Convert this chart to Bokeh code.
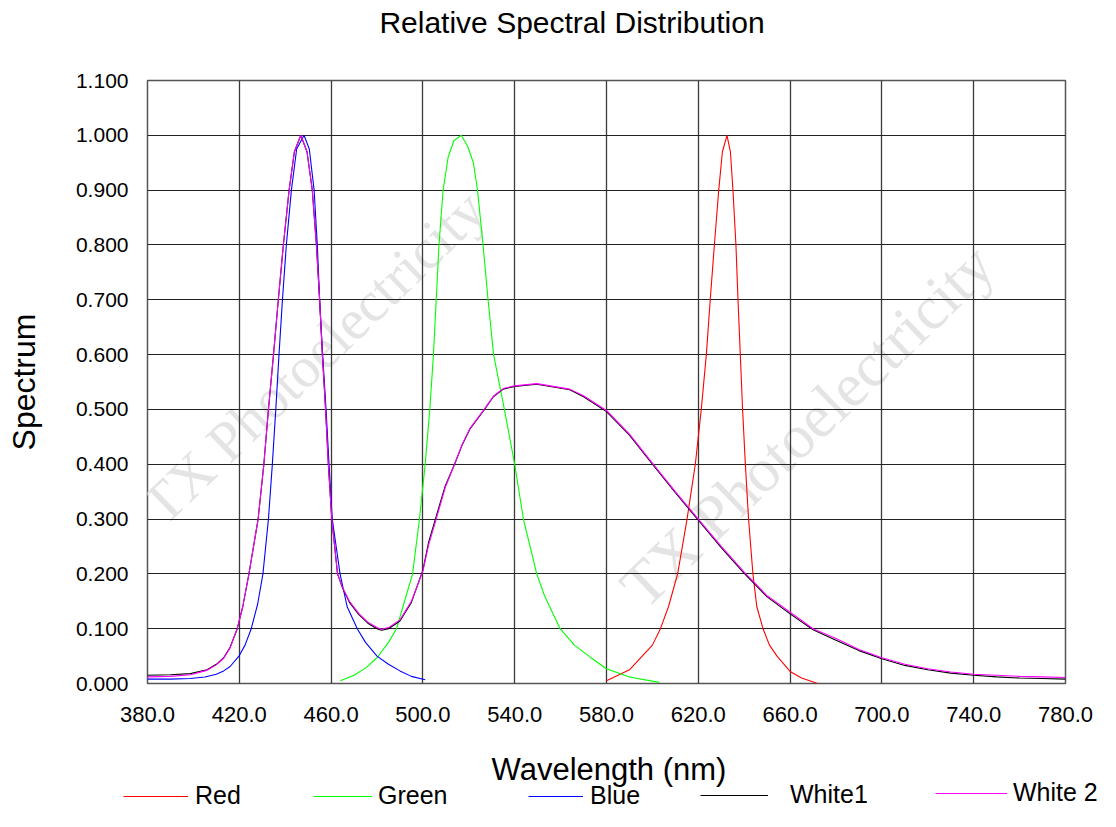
import math
from bokeh.plotting import figure
from bokeh.layouts import column
from bokeh.models import (Legend, LegendItem, Label, FixedTicker,
                          NumeralTickFormatter, Range1d)
from bokeh.embed import file_html
from bokeh.resources import INLINE

# ---------------- data ----------------
red_wl = [580, 590, 600, 603.5, 607, 611, 615.1, 618.7, 621.3, 623.5, 625.2, 627,
          628.9, 630.5, 632.5, 634, 635.1, 636.4, 637.3, 638.3, 639.3, 640.5,
          641.9, 643.8, 645.5, 648.2, 651, 654.3, 660, 665, 672]
red_val = [0.005, 0.025, 0.07, 0.10, 0.14, 0.20, 0.30, 0.40, 0.50, 0.60, 0.70, 0.80,
           0.90, 0.97, 1.00, 0.97, 0.90, 0.80, 0.70, 0.60, 0.50, 0.40,
           0.30, 0.20, 0.14, 0.10, 0.07, 0.05, 0.022, 0.010, 0.0]

green_wl = [464, 470, 475, 480, 485, 488.5, 492, 495.5, 498.5, 501, 503, 504.6,
            505.8, 507, 508.8, 511, 513.5, 516.7, 519.5, 522, 523.8, 526.2, 528.4,
            530.8, 535.5, 540, 543.8, 549.6, 553, 559.8, 566, 572.9, 580, 590, 603]
green_val = [0.005, 0.015, 0.028, 0.047, 0.075, 0.10, 0.15, 0.20, 0.30, 0.40, 0.50, 0.60,
             0.70, 0.80, 0.90, 0.96, 0.99, 1.00, 0.98, 0.95, 0.90, 0.80, 0.70,
             0.60, 0.50, 0.40, 0.30, 0.20, 0.16, 0.10, 0.07, 0.048, 0.027, 0.012, 0.002]

blue_wl = [380, 390, 398.7, 405, 410, 413.2, 416, 420, 422.5, 425.2, 428, 430.3, 432.7,
           434.4, 435.9, 437.3, 438.8, 440.5, 442.7, 445, 448.2, 450.5, 452.6, 454,
           455, 456.3, 457.8, 459.1, 460.5, 463.9, 467, 471.4, 475, 480, 485, 490,
           495, 501]
blue_val = [0.008, 0.008, 0.009, 0.012, 0.017, 0.023, 0.031, 0.051, 0.07, 0.10, 0.145, 0.20, 0.30,
            0.40, 0.50, 0.60, 0.70, 0.80, 0.90, 0.975, 1.00, 0.975, 0.90, 0.80,
            0.70, 0.60, 0.50, 0.40, 0.30, 0.20, 0.14, 0.10, 0.075, 0.05, 0.035, 0.023,
            0.013, 0.007]

white_wl = [380, 390, 398.7, 405.9, 410, 413.2, 416, 419.1, 421.5, 424.2, 428.2, 430.7,
            432.7, 434.9, 437, 439.2, 441.7, 444, 446.8, 449.5, 451.8, 453.6, 455,
            456.2, 457.6, 458.8, 460.3, 462.8, 465, 468, 472, 476, 480, 482, 485,
            490, 495, 500, 502.5, 505.8, 509.7, 513.8, 517, 520.6, 526.7, 530.7, 535,
            540, 549.6, 564, 570, 580, 590, 600, 610, 620, 630, 640, 650, 660, 670,
            680, 690, 700, 710, 720, 730, 740, 750, 760, 770, 780]
white1_val = [0.015, 0.016, 0.018, 0.025, 0.035, 0.047, 0.066, 0.10, 0.14, 0.20, 0.30, 0.40,
              0.50, 0.60, 0.70, 0.80, 0.90, 0.97, 1.00, 0.97, 0.90, 0.80, 0.70,
              0.60, 0.50, 0.40, 0.30, 0.20, 0.174, 0.148, 0.126, 0.110, 0.100, 0.097, 0.100,
              0.114, 0.148, 0.207, 0.258, 0.305, 0.36, 0.40, 0.434, 0.465, 0.499, 0.523, 0.537,
              0.542, 0.546, 0.536, 0.523, 0.496, 0.453, 0.400, 0.348, 0.298, 0.248, 0.201,
              0.158, 0.127, 0.098, 0.079, 0.06, 0.045, 0.033, 0.025, 0.019, 0.015, 0.012,
              0.010, 0.009, 0.008]
white2_val = [0.012, 0.013, 0.016, 0.024, 0.034, 0.046, 0.065, 0.10, 0.14, 0.20, 0.30, 0.40,
              0.50, 0.60, 0.70, 0.80, 0.90, 0.97, 1.00, 0.97, 0.90, 0.80, 0.70,
              0.60, 0.50, 0.40, 0.30, 0.20, 0.175, 0.15, 0.128, 0.112, 0.102, 0.099, 0.102,
              0.116, 0.15, 0.205, 0.253, 0.30, 0.357, 0.40, 0.435, 0.466, 0.50, 0.524, 0.538,
              0.543, 0.547, 0.537, 0.525, 0.498, 0.455, 0.402, 0.350, 0.300, 0.250, 0.203,
              0.160, 0.130, 0.100, 0.082, 0.062, 0.047, 0.035, 0.027, 0.021, 0.017, 0.015,
              0.013, 0.012, 0.011]

series_names = ["Red", "Green", "Blue", "White1", "White 2"]
series_colors = ["#FF0000", "#00FF00", "#0000FF", "#000000", "#FF00FF"]

x_tick_values = [380.0, 420.0, 460.0, 500.0, 540.0, 580.0, 620.0, 660.0, 700.0, 740.0, 780.0]
y_tick_values = [0.0, 0.1, 0.2, 0.3, 0.4, 0.5, 0.6, 0.7, 0.8, 0.9, 1.0, 1.1]

title_text = "Relative Spectral Distribution"
x_label = "Wavelength (nm)"
y_label = "Spectrum"
watermark_text = "TX Photoelectricity"

FONT = "Liberation Sans"
W = 1100
TITLE_H = 60
MAIN_H = 675
FOOT_H = 76

# legend key layout in the footer strip (pixels): key start, key length, gap to text, centre height
legend_layout = [(123, 65, 7, 14), (313, 59, 6, 14), (528, 55, 7, 14),
                 (700, 68, 22, 15), (935, 72, 6, 17)]
KEY_BOX = 26


def strip(h):
    """A plain strip whose frame fills it, so that data units equal pixels."""
    f = figure(width=W, height=h, x_range=Range1d(0, W), y_range=Range1d(0, h),
               x_axis_location=None, y_axis_location=None, output_backend="svg",
               toolbar_location=None, min_border=0, title=None, frame_align=False)
    f.outline_line_color = None
    f.xgrid.visible = False
    f.ygrid.visible = False
    return f


# ---------------- title strip ----------------
t = strip(TITLE_H)
t.add_layout(Label(x=571.5, y=TITLE_H - 22, text=title_text, text_font=FONT,
                   text_font_size="30px", text_color="black",
                   text_align="center", text_baseline="middle"))

# ---------------- main chart ----------------
p = figure(width=W, height=MAIN_H, title=None,
           x_range=Range1d(380, 780), y_range=Range1d(0, 1.1),
           output_backend="svg", toolbar_location=None, frame_align=False,
           min_border_left=147, min_border_right=35,
           min_border_top=20, min_border_bottom=52)

p.background_fill_color = "white"
p.border_fill_color = "white"
p.outline_line_color = "#555555"
p.outline_line_width = 1.5

# faint watermarks under everything
for wx, wy, fs in [(381.5, 0.31, "57px"), (590.5, 0.16, "62px")]:
    p.add_layout(Label(x=wx, y=wy, text=watermark_text, angle=math.radians(44),
                       text_font="Liberation Serif", text_font_size=fs,
                       text_color="#e4e4e4", text_align="left",
                       text_baseline="alphabetic", level="image"))

for ax in (p.xaxis[0], p.yaxis[0]):
    ax.axis_line_color = None
    ax.major_tick_line_color = None
    ax.minor_tick_line_color = None
    ax.major_tick_out = 0
    ax.major_tick_in = 0
    ax.major_label_text_font = FONT
    ax.major_label_text_font_size = "21px"
    ax.major_label_text_color = "black"
    ax.major_label_standoff = 19
    ax.axis_label_text_font = FONT
    ax.axis_label_text_font_size = "32px"
    ax.axis_label_text_font_style = "normal"
    ax.axis_label_text_color = "black"

p.xaxis.ticker = FixedTicker(ticks=x_tick_values)
p.yaxis.ticker = FixedTicker(ticks=y_tick_values)
p.xaxis.formatter = NumeralTickFormatter(format="0.0")
p.yaxis.formatter = NumeralTickFormatter(format="0.000")
p.xaxis.major_label_text_font_size = "22px"
p.xaxis.major_label_standoff = 23
p.yaxis.axis_label = y_label
p.yaxis.axis_label_standoff = 31

p.xgrid.grid_line_color = "#3a3a3a"
p.ygrid.grid_line_color = "#222222"
p.xgrid.grid_line_width = 1.3
p.ygrid.grid_line_width = 1.2

all_x = [red_wl, green_wl, blue_wl, white_wl, white_wl]
all_y = [red_val, green_val, blue_val, white1_val, white2_val]
for xs, ys, c in zip(all_x, all_y, series_colors):
    p.line(xs, ys, line_color=c, line_width=1.1)

# ---------------- footer strip: x-axis title and legend ----------------
f = strip(FOOT_H)
f.add_layout(Label(x=608.5, y=FOOT_H - 34, text=x_label, text_font=FONT,
                   text_font_size="31px", text_color="black",
                   text_align="center", text_baseline="middle"))
nan = float("nan")
for (kx, klen, gap, cy), name, c in zip(legend_layout, series_names, series_colors):
    key = f.line([nan], [nan], line_color=c, line_width=1.1)
    f.add_layout(Legend(items=[LegendItem(label=name, renderers=[key])],
                        location=(kx, cy - KEY_BOX // 2), orientation="horizontal",
                        glyph_width=klen, glyph_height=KEY_BOX, label_height=KEY_BOX,
                        label_standoff=gap, padding=0, margin=0, spacing=0,
                        border_line_color=None, background_fill_alpha=0,
                        label_text_font=FONT, label_text_font_size="25px",
                        label_text_color="black"))

layout = column(t, p, f, spacing=0)
open("out.html", "w").write(file_html(layout, INLINE))
